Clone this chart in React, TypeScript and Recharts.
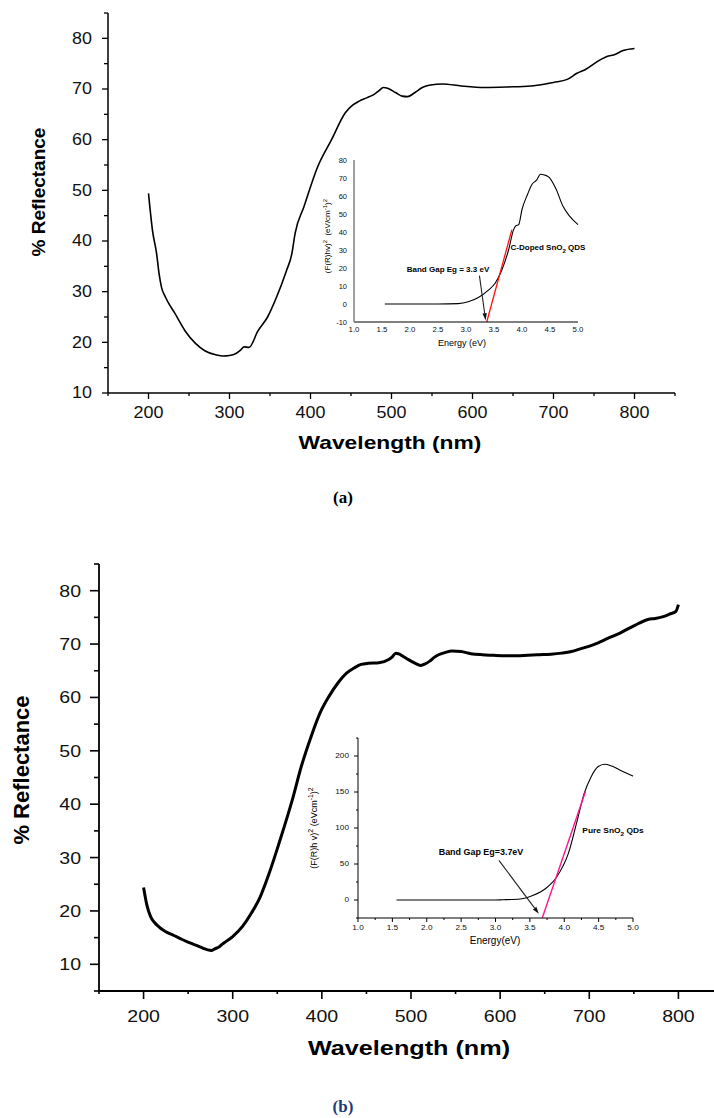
import React from 'react'
import { LineChart, Line, XAxis, YAxis, ReferenceLine } from 'recharts'

// main spectrum (a): C-doped SnO2
const A_WL = [200, 205, 210, 213, 216, 221, 233, 245, 258, 270, 284, 292, 300, 308, 314, 318, 324, 335, 347, 358, 370, 377, 381, 392, 409, 426, 443, 452, 460, 470, 477, 484, 490, 496, 505, 513, 520, 529, 538, 548, 563, 586, 615, 643, 672, 690, 700, 717, 729, 740, 757, 768, 774, 786, 800]
const A_REFL = [49.4, 42, 37.5, 33.6, 30.9, 28.9, 25.6, 22.3, 19.8, 18.3, 17.5, 17.3, 17.4, 17.8, 18.5, 19.1, 19.0, 22.2, 25.0, 28.9, 34, 37.5, 41.5, 46.8, 54.7, 60, 65.3, 66.8, 67.6, 68.3, 68.8, 69.6, 70.3, 70.1, 69.3, 68.6, 68.5, 69.3, 70.3, 70.8, 71, 70.6, 70.3, 70.4, 70.6, 71, 71.3, 71.9, 73.1, 73.9, 75.7, 76.5, 76.7, 77.6, 78]

// main spectrum (b): pure SnO2
const B_WL = [200, 204, 208, 213, 218, 224, 234, 244, 252, 260, 267, 272, 276, 280, 285, 290, 300, 311, 321, 331, 341, 352, 367, 377, 388, 398, 408, 418, 428, 436, 444, 452, 464, 475, 479, 483, 487, 490, 495, 500, 506, 511, 516, 521, 526, 531, 538, 546, 556, 567, 580, 592, 605, 618, 631, 644, 657, 669, 680, 690, 705, 720, 736, 751, 766, 774, 782, 790, 797, 800]
const B_REFL = [24.4, 20.9, 18.9, 17.7, 16.9, 16.2, 15.4, 14.6, 14.0, 13.5, 13.0, 12.7, 12.6, 12.9, 13.3, 14, 15.2, 17.1, 19.6, 22.7, 27.1, 32.7, 40.9, 47.1, 52.7, 57.1, 60.2, 62.7, 64.6, 65.5, 66.2, 66.4, 66.5, 67.1, 67.6, 68.3, 68.1, 67.8, 67.3, 66.8, 66.3, 66.0, 66.3, 66.8, 67.5, 68.0, 68.4, 68.7, 68.6, 68.2, 68.0, 67.9, 67.8, 67.8, 67.9, 68.0, 68.1, 68.3, 68.6, 69.1, 69.9, 71.0, 72.2, 73.5, 74.6, 74.8, 75.1, 75.6, 76.1, 77.4]

// inset (a): Tauc plot, C-doped
const INA_E = [1.55, 2.0, 2.5, 2.86, 3.04, 3.22, 3.4, 3.52, 3.64, 3.76, 3.85, 3.89, 3.94, 4.0, 4.1, 4.18, 4.26, 4.33, 4.4, 4.49, 4.61, 4.73, 4.85, 5.0]
const INA_Y = [0, 0, 0, 0.2, 1.2, 3.6, 7.7, 11.5, 18.9, 30, 41.3, 43.5, 44, 52.5, 61, 66.5, 68.8, 72.1, 71.7, 70.2, 63.7, 54.4, 48.8, 44.1]
const INA_FIT_E = [3.37, 3.82]
const INA_FIT_Y = [-10, 41.3]
const INA_ARROW = [{ x: 3.24, y: 15.8 }, { x: 3.35, y: -9 }]

// inset (b): Tauc plot, pure
const INB_E = [1.56, 2.0, 2.5, 3.0, 3.1, 3.36, 3.56, 3.73, 3.89, 4.06, 4.19, 4.29, 4.39, 4.49, 4.59, 4.69, 4.82, 5.0]
const INB_Y = [0, 0, 0, 0, 0.3, 1.4, 6.9, 16, 32, 64.7, 111, 148, 171, 185, 188.5, 186, 180, 172]
const INB_FIT_E = [3.68, 4.31]
const INB_FIT_Y = [-25, 151]
const INB_ARROW = [{ x: 3.05, y: 55 }, { x: 3.63, y: -19 }]

const WL_TICKS = [150, 200, 250, 300, 350, 400, 450, 500, 550, 600, 650, 700, 750, 800, 850]
const A_Y_TICKS = [10, 15, 20, 25, 30, 35, 40, 45, 50, 55, 60, 65, 70, 75, 80, 85]
const B_Y_TICKS = [5, 10, 15, 20, 25, 30, 35, 40, 45, 50, 55, 60, 65, 70, 75, 80, 85]
const INA_X_TICKS = [1.0, 1.5, 2.0, 2.5, 3.0, 3.5, 4.0, 4.5, 5.0]
const INA_Y_TICKS = [-10, 0, 10, 20, 30, 40, 50, 60, 70, 80]
const INB_X_TICKS = [1.0, 1.25, 1.5, 1.75, 2.0, 2.25, 2.5, 2.75, 3.0, 3.25, 3.5, 3.75, 4.0, 4.25, 4.5, 4.75, 5.0]
const INB_Y_TICKS = [-25, 0, 25, 50, 75, 100, 125, 150, 175, 200, 225]

const SANS = '"Liberation Sans", Arial, sans-serif'

const zip = (xs: number[], ys: number[], kx: string, ky: string) =>
  xs.map((x, i) => ({ [kx]: x, [ky]: ys[i] }))

type TickOpts = {
  major: (v: number) => boolean
  majorLen: number
  minorLen: number
  gap: number
  fontSize: number
  sx: number
  fmt: (v: number) => string
  w?: number
}

function makeXTick(o: TickOpts) {
  return function XTick(props: any) {
    const { x, y, payload } = props
    const v = payload.value
    const maj = o.major(v)
    const len = maj ? o.majorLen : o.minorLen
    return (
      <g>
        {len > 0 && <line x1={x} y1={y} x2={x} y2={y + len} stroke="#000" strokeWidth={o.w ?? 1} />}
        {maj && (
          <text transform={`translate(${x},${y + o.gap}) scale(${o.sx},1)`} textAnchor="middle"
            dominantBaseline="central" fontSize={o.fontSize} fontFamily={SANS} fill="#111">
            {o.fmt(v)}
          </text>
        )}
      </g>
    )
  }
}

function makeYTick(o: TickOpts) {
  return function YTick(props: any) {
    const { x, y, payload } = props
    const v = payload.value
    const maj = o.major(v)
    const len = maj ? o.majorLen : o.minorLen
    return (
      <g>
        {len > 0 && <line x1={x} y1={y} x2={x - len} y2={y} stroke="#000" strokeWidth={o.w ?? 1} />}
        {maj && (
          <text transform={`translate(${x - o.gap},${y}) scale(${o.sx},1)`} textAnchor="end"
            dominantBaseline="central" fontSize={o.fontSize} fontFamily={SANS} fill="#111">
            {o.fmt(v)}
          </text>
        )}
      </g>
    )
  }
}

const Arrow = (props: any) => {
  const { x1, y1, x2, y2 } = props
  const ang = Math.atan2(y2 - y1, x2 - x1)
  const L = 7, W = 2.2
  const bx = x2 - L * Math.cos(ang)
  const by = y2 - L * Math.sin(ang)
  const px = -Math.sin(ang) * W
  const py = Math.cos(ang) * W
  return (
    <g>
      <line x1={x1} y1={y1} x2={bx} y2={by} stroke="#222" strokeWidth={1.1} />
      <polygon points={`${x2},${y2} ${bx + px},${by + py} ${bx - px},${by - py}`} fill="#111" />
    </g>
  )
}

function Txt({ x, y, children, size, bold, rotate, sx = 1, family = SANS, color = '#000' }: any) {
  return (
    <div style={{
      position: 'absolute', left: x, top: y, whiteSpace: 'nowrap', fontFamily: family,
      fontSize: size, fontWeight: bold ? 700 : 400, color, lineHeight: 1,
      transform: `translate(-50%,-50%) ${rotate ? `rotate(${rotate}deg)` : ''} scaleX(${sx})`,
    }}>{children}</div>
  )
}

const isInt = (step: number) => (v: number) => Math.abs(v / step - Math.round(v / step)) < 1e-6

export default function App() {
  const aData = zip(A_WL, A_REFL, 'wl', 'r')
  const bData = zip(B_WL, B_REFL, 'wl', 'r')
  const inA = zip(INA_E, INA_Y, 'e', 'y')
  const inAFit = zip(INA_FIT_E, INA_FIT_Y, 'e', 'y')
  const inB = zip(INB_E, INB_Y, 'e', 'y')
  const inBFit = zip(INB_FIT_E, INB_FIT_Y, 'e', 'y')

  return (
    <div style={{ position: 'absolute', left: 0, top: 0, width: 714, height: 1118, overflow: 'hidden', background: '#fff' }}>
      {/* chart (a) */}
      <div style={{ position: 'absolute', left: 0, top: 0 }}>
        <LineChart width={714} height={460} data={aData} margin={{ top: 13, left: 48, right: 39, bottom: 37 }}>
          <XAxis dataKey="wl" type="number" domain={[150, 850]} ticks={WL_TICKS} interval={0} height={30}
            tickSize={0} tickMargin={0} tickLine={false} axisLine={{ stroke: '#000', strokeWidth: 1.5 }}
            tick={makeXTick({ major: isInt(100), majorLen: 6, minorLen: 3, gap: 20, fontSize: 16, sx: 1.12, fmt: v => String(v), w: 1.3 })} />
          <YAxis type="number" domain={[10, 85]} ticks={A_Y_TICKS} interval={0} width={60}
            tickSize={0} tickMargin={0} tickLine={false} axisLine={{ stroke: '#000', strokeWidth: 1.5 }}
            tick={makeYTick({ major: isInt(10), majorLen: 6, minorLen: 4, gap: 16, fontSize: 16, sx: 1.12, fmt: v => String(v), w: 1.3 })} />
          <Line type="monotone" dataKey="r" stroke="#000" strokeWidth={1.6} dot={false} isAnimationActive={false} />
        </LineChart>
      </div>
      <Txt x={38} y={192} size={19} bold rotate={-90}>% Reflectance</Txt>
      <Txt x={390} y={442} size={19} bold sx={1.2}>Wavelength (nm)</Txt>

      {/* inset (a) */}
      <div style={{ position: 'absolute', left: 290, top: 140 }}>
        <LineChart width={310} height={220} margin={{ top: 20, left: 34, right: 22, bottom: 18 }}>
          <XAxis dataKey="e" type="number" domain={[1, 5]} ticks={INA_X_TICKS} interval={0} height={20}
            tickSize={0} tickMargin={0} tickLine={false} axisLine={{ stroke: '#000', strokeWidth: 1.2 }}
            tick={makeXTick({ major: () => true, majorLen: 0, minorLen: 0, gap: 8, fontSize: 7.5, sx: 1.05, fmt: v => v.toFixed(1) })} />
          <YAxis dataKey="y" type="number" domain={[-10, 80]} ticks={INA_Y_TICKS} interval={0} width={30}
            tickSize={0} tickMargin={0} tickLine={false} axisLine={{ stroke: '#777', strokeWidth: 1.4 }}
            tick={makeYTick({ major: () => true, majorLen: 0, minorLen: 0, gap: 7, fontSize: 7.5, sx: 1, fmt: v => String(v) })} />
          <Line type="monotone" data={inA} dataKey="y" stroke="#000" strokeWidth={1.1} dot={false} isAnimationActive={false} />
          <Line data={inAFit} dataKey="y" stroke="#ff1010" strokeWidth={1.3} dot={false} isAnimationActive={false} />
          <ReferenceLine segment={INA_ARROW} shape={Arrow} />
        </LineChart>
      </div>
      <Txt x={327} y={236} size={8} rotate={-90}>(F(R)hv)<sup style={{ fontSize: 6 }}>2</sup>&nbsp;&nbsp;(eV/cm<sup style={{ fontSize: 6 }}>-1</sup>)<sup style={{ fontSize: 6 }}>2</sup></Txt>
      <Txt x={462} y={343} size={9}>Energy (eV)</Txt>
      <Txt x={448} y={269.5} size={8} bold>Band Gap Eg = 3.3 eV</Txt>
      <Txt x={548} y={249} size={8} bold>C-Doped SnO<sub style={{ fontSize: 6 }}>2</sub> QDS</Txt>

      <Txt x={343} y={497} size={17} bold family={'"Liberation Serif", "Times New Roman", serif'}>(a)</Txt>

      {/* chart (b) */}
      <div style={{ position: 'absolute', left: 0, top: 550 }}>
        <LineChart width={740} height={500} data={bData} margin={{ top: 14, left: 39, right: 17, bottom: 29 }}>
          <XAxis dataKey="wl" type="number" domain={[150, 850]} ticks={WL_TICKS} interval={0} height={30}
            tickSize={0} tickMargin={0} tickLine={false} axisLine={{ stroke: '#000', strokeWidth: 1.8 }}
            tick={makeXTick({ major: isInt(100), majorLen: 8, minorLen: 3, gap: 25, fontSize: 17, sx: 1.15, fmt: v => String(v), w: 1.6 })} />
          <YAxis type="number" domain={[5, 85]} ticks={B_Y_TICKS} interval={0} width={60}
            tickSize={0} tickMargin={0} tickLine={false} axisLine={{ stroke: '#000', strokeWidth: 1.8 }}
            tick={makeYTick({ major: isInt(10), majorLen: 9, minorLen: 5, gap: 18, fontSize: 17, sx: 1.15, fmt: v => String(v), w: 1.6 })} />
          <Line type="monotone" dataKey="r" stroke="#000" strokeWidth={3} dot={false} isAnimationActive={false} />
        </LineChart>
      </div>
      <Txt x={22} y={770} size={22} bold rotate={-90}>% Reflectance</Txt>
      <Txt x={409} y={1047} size={21} bold sx={1.2}>Wavelength (nm)</Txt>

      {/* inset (b) */}
      <div style={{ position: 'absolute', left: 290, top: 720 }}>
        <LineChart width={370} height={240} margin={{ top: 18, left: 38, right: 27, bottom: 22 }}>
          <XAxis dataKey="e" type="number" domain={[1, 5]} ticks={INB_X_TICKS} interval={0} height={20}
            tickSize={0} tickMargin={0} tickLine={false} axisLine={{ stroke: '#000', strokeWidth: 1 }}
            tick={makeXTick({ major: isInt(0.5), majorLen: 4, minorLen: 2, gap: 10, fontSize: 7.5, sx: 1.1, fmt: v => v.toFixed(1) })} />
          <YAxis dataKey="y" type="number" domain={[-25, 225]} ticks={INB_Y_TICKS} interval={0} width={30}
            tickSize={0} tickMargin={0} tickLine={false} axisLine={{ stroke: '#000', strokeWidth: 1 }}
            tick={makeYTick({ major: isInt(50), majorLen: 4, minorLen: 2, gap: 9, fontSize: 7.5, sx: 1.1, fmt: v => String(v) })} />
          <Line type="monotone" data={inB} dataKey="y" stroke="#000" strokeWidth={1.1} dot={false} isAnimationActive={false} />
          <Line data={inBFit} dataKey="y" stroke="#ff1493" strokeWidth={1.4} dot={false} isAnimationActive={false} />
          <ReferenceLine segment={INB_ARROW} shape={Arrow} />
        </LineChart>
      </div>
      <Txt x={313} y={828} size={9} rotate={-90}>(F(R)h v)<sup style={{ fontSize: 7 }}>2</sup> (eVcm<sup style={{ fontSize: 7 }}>-1</sup>)<sup style={{ fontSize: 7 }}>2</sup></Txt>
      <Txt x={495} y={941} size={10}>Energy(eV)</Txt>
      <Txt x={481} y={852} size={8.5} bold sx={1.05}>Band Gap Eg=3.7eV</Txt>
      <Txt x={613} y={832} size={8} bold sx={1.05}>Pure SnO<sub style={{ fontSize: 6 }}>2</sub> QDs</Txt>

      <Txt x={343} y={1106} size={17} bold color="#1f3c78" family={'"Liberation Serif", "Times New Roman", serif'}>(b)</Txt>
    </div>
  )
}
